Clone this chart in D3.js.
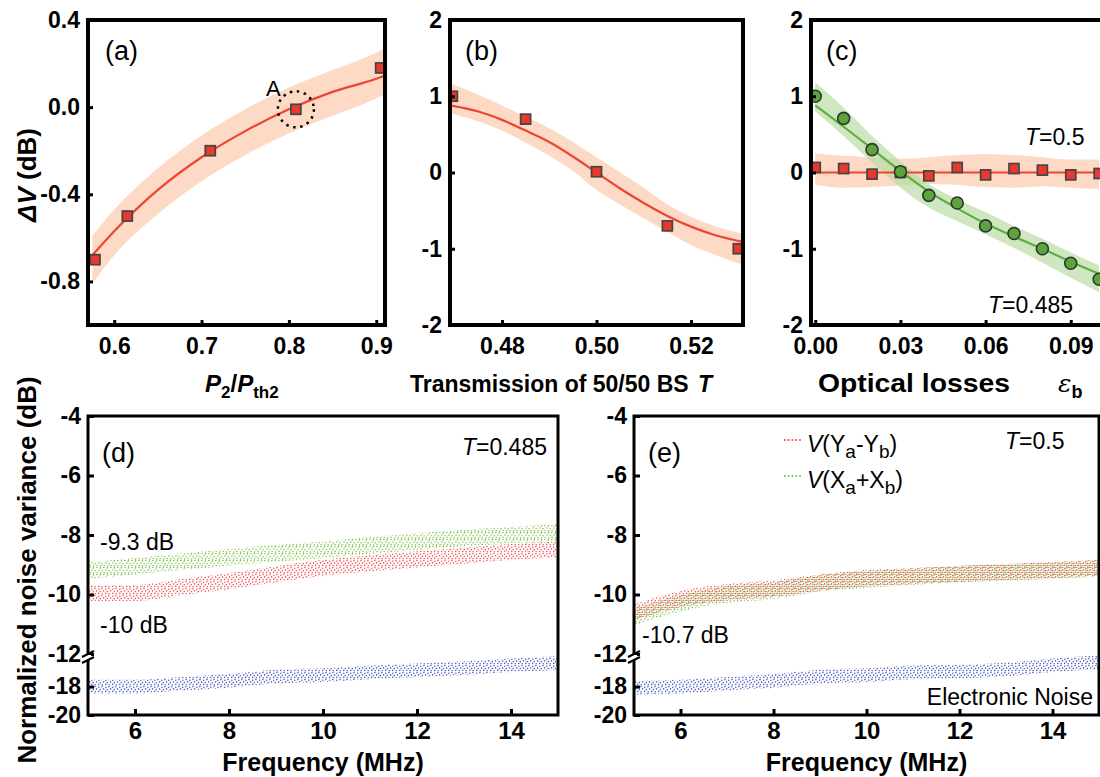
<!DOCTYPE html>
<html>
<head>
<meta charset="utf-8">
<title>Squeezing vs transmission and losses</title>
<style>
  body { margin: 0; background: #fff; }
  svg { display: block; font-family: "Liberation Sans", Arial, sans-serif; }
</style>
</head>
<body>
<div id="chart"></div>
<script src="https://cdnjs.cloudflare.com/ajax/libs/d3/7.8.5/d3.min.js"></script>
<script>
// ---- panel (a): Delta V vs P2/Pth2
const aPumpX  = [0.578, 0.615, 0.71, 0.808, 0.905];
const aDeltaV = [-0.70, -0.50, -0.20, -0.01, 0.18];
const aFitX   = [0.575, 0.6, 0.65, 0.7, 0.75, 0.8, 0.85, 0.9, 0.91];
const aFitY   = [-0.68, -0.57, -0.38, -0.23, -0.11, -0.01, 0.07, 0.13, 0.145];
const aBandHi = [-0.59, -0.47, -0.28, -0.13, -0.01, 0.09, 0.17, 0.25, 0.27];
const aBandLo = [-0.81, -0.68, -0.49, -0.34, -0.22, -0.12, -0.04, 0.04, 0.06];

// ---- panel (b): Delta V vs BS transmission
const bTransX = [0.4695, 0.485, 0.50, 0.515, 0.530];
const bDeltaV = [1.0, 0.7, 0.01, -0.7, -1.0];
const bFitX   = [0.469, 0.475, 0.48, 0.485, 0.49, 0.495, 0.50, 0.505, 0.51, 0.515, 0.52, 0.525, 0.531];
const bFitY   = [0.88, 0.80, 0.69, 0.55, 0.40, 0.21, 0.0, -0.21, -0.40, -0.57, -0.71, -0.82, -0.91];
const bBandHi = [1.17, 1.02, 0.88, 0.73, 0.58, 0.40, 0.20, 0.0, -0.20, -0.42, -0.58, -0.70, -0.80];
const bBandLo = [0.78, 0.67, 0.55, 0.39, 0.22, 0.02, -0.23, -0.42, -0.60, -0.78, -0.95, -1.08, -1.21];

// ---- panel (c): Delta V vs optical losses
const cLossX     = [0, 0.01, 0.02, 0.03, 0.04, 0.05, 0.06, 0.07, 0.08, 0.09, 0.10];
const cRedPts    = [0.066, 0.052, -0.022, 0.0, -0.044, 0.066, -0.031, 0.052, 0.031, -0.031, -0.013];
const cGreenPts  = [1.0, 0.71, 0.30, 0.01, -0.30, -0.40, -0.70, -0.80, -1.0, -1.19, -1.40];
const cGreenFit  = [0.88, 0.60, 0.31, 0.02, -0.25, -0.47, -0.67, -0.84, -1.0, -1.17, -1.33];
const cGreenHi   = [1.18, 0.85, 0.48, 0.15, -0.15, -0.35, -0.52, -0.70, -0.87, -1.05, -1.22];
const cGreenLo   = [0.80, 0.48, 0.13, -0.20, -0.46, -0.64, -0.81, -0.99, -1.18, -1.38, -1.57];
const cRedFitX   = [-0.0015, 0.101];
const cRedFitY   = [0, 0];
const cRedHi     = [0.25, 0.22, 0.20, 0.18, 0.20, 0.23, 0.24, 0.23, 0.20, 0.17, 0.17];
const cRedLo     = [-0.16, -0.20, -0.19, -0.17, -0.15, -0.16, -0.19, -0.20, -0.18, -0.20, -0.22];

// ---- panels (d), (e): noise spectra (trace centre and half spread, dB)
const freq    = [5, 6, 7, 8, 9, 10, 11, 12, 13, 14, 15];
const dGreen  = [-9.2, -9.05, -8.9, -8.75, -8.62, -8.5, -8.35, -8.22, -8.1, -8.0, -7.92];
const dRed    = [-9.95, -9.95, -9.75, -9.55, -9.32, -9.1, -8.95, -8.82, -8.7, -8.57, -8.48];
const dBlue   = [-18.0, -18.0, -17.8, -17.6, -17.3, -17.2, -17.0, -16.85, -16.7, -16.5, -16.35];
const eRed    = [-10.6, -10.15, -9.92, -9.8, -9.6, -9.45, -9.38, -9.3, -9.24, -9.18, -9.1];
const eGreen  = [-10.75, -10.3, -10.0, -9.88, -9.62, -9.5, -9.4, -9.32, -9.26, -9.2, -9.12];
const eBlue   = [-18.1, -18.0, -17.8, -17.6, -17.3, -17.2, -17.0, -16.95, -16.8, -16.5, -16.3];
const spread  = { red: 0.27, green: 0.28, blue: 0.48 };

const upperTicks = [-4, -6, -8, -10, -12];
const lowerTicks = [-18, -20];
const freqTicks  = [6, 8, 10, 12, 14];

const RED = '#ee4433', PEACH = '#fcdac5', GREEN = '#5cae3e';
const DOT = { red: '#f2565c', green: '#80c24c', blue: '#4e5ebf' };

// plain hyphen instead of unicode minus, as in the figure
const fmt = spec => d => d3.format(spec)(d).replace('\u2212', '-');

const svg = d3.select('#chart').append('svg')
    .attr('width', 1100).attr('height', 777);
const defs = svg.append('defs');

// scattered-dot textures for the spectra
function dotPattern(id, color, pts) {
  const p = defs.append('pattern').attr('id', id)
      .attr('patternUnits', 'userSpaceOnUse').attr('width', 7).attr('height', 7);
  pts.forEach(([cx, cy]) => p.append('circle').attr('cx', cx).attr('cy', cy).attr('r', 0.8).attr('fill', color));
}
const dotsA = [[0.8, 1.2], [3.9, 0.6], [2.3, 3.6], [5.6, 2.9], [0.7, 5.4], [4.2, 5.8]];
const dotsB = [[2.4, 0.9], [5.8, 0.4], [0.9, 3.0], [4.1, 3.7], [2.6, 6.1], [6.2, 5.5]];
dotPattern('dot-red', DOT.red, dotsA);
dotPattern('dot-green', DOT.green, dotsB);
dotPattern('dot-blue', DOT.blue, dotsA);

let clipN = 0;
function clipFor(x, y) {
  const id = 'clip' + (clipN++);
  const [x0, x1] = x.range(), [yb, yt] = y.range();
  defs.append('clipPath').attr('id', id).append('rect')
      .attr('x', x0).attr('y', yt).attr('width', x1 - x0).attr('height', yb - yt);
  return `url(#${id})`;
}

function styleAxis(g, size, sw) {
  g.select('.domain').remove();
  g.attr('font-family', null).attr('font-size', null);
  g.selectAll('.tick line').attr('stroke', '#000').attr('stroke-width', sw);
  g.selectAll('.tick text').attr('fill', '#000').attr('font-size', size).attr('font-weight', 'bold');
}

function frame(x, y, sw) {
  const [x0, x1] = x.range(), [yb, yt] = y.range();
  svg.append('rect').attr('x', x0).attr('y', yt).attr('width', x1 - x0).attr('height', yb - yt)
      .attr('fill', 'none').attr('stroke', '#000').attr('stroke-width', sw);
}

function label(txt, x, y, size) {
  return svg.append('text').attr('x', x).attr('y', y).attr('font-size', size).text(txt);
}

// ---------- top row ----------
function topPanel(x, y, xTicks, xFmt, yTicks, yFmt) {
  svg.append('g').attr('transform', `translate(0,${y.range()[0]})`)
      .call(d3.axisBottom(x).tickValues(xTicks).tickFormat(xFmt).tickSize(-5).tickPadding(13))
      .call(g => styleAxis(g, 23, 3));
  svg.append('g').attr('transform', `translate(${x.range()[0]},0)`)
      .call(d3.axisLeft(y).tickValues(yTicks).tickFormat(yFmt).tickSize(-5).tickPadding(8))
      .call(g => styleAxis(g, 23, 3));
}

function band(x, y, xs, lo, hi, fill, clip, opacity) {
  svg.append('path').attr('clip-path', clip)
      .datum(xs.map((v, i) => [v, lo[i], hi[i]]))
      .attr('fill', fill).attr('opacity', opacity || 1)
      .attr('d', d3.area().curve(d3.curveMonotoneX)
        .x(d => x(d[0])).y0(d => y(d[1])).y1(d => y(d[2])));
}
function fitLine(x, y, xs, ys, color, clip) {
  svg.append('path').attr('clip-path', clip)
      .datum(xs.map((v, i) => [v, ys[i]]))
      .attr('fill', 'none').attr('stroke', color).attr('stroke-width', 2.2)
      .attr('d', d3.line().curve(d3.curveMonotoneX).x(d => x(d[0])).y(d => y(d[1])));
}
function squares(x, y, xs, ys, clip) {
  svg.append('g').attr('clip-path', clip).selectAll('rect').data(xs.map((v, i) => [v, ys[i]]))
    .join('rect')
      .attr('x', d => x(d[0]) - 5).attr('y', d => y(d[1]) - 5)
      .attr('width', 10).attr('height', 10)
      .attr('fill', '#e8392f').attr('stroke', '#444').attr('stroke-width', 1.7);
}

// (a)
const xa = d3.scaleLinear().domain([0.57, 0.91]).range([88, 385]);
const ya = d3.scaleLinear().domain([-1.0, 0.4]).range([325, 20]);
const clipA = clipFor(xa, ya);
band(xa, ya, aFitX, aBandLo, aBandHi, PEACH, clipA);
fitLine(xa, ya, aFitX, aFitY, RED, clipA);
squares(xa, ya, aPumpX, aDeltaV, clipA);
svg.append('circle').attr('cx', xa(aPumpX[3])).attr('cy', ya(aDeltaV[3])).attr('r', 18)
    .attr('fill', 'none').attr('stroke', '#000').attr('stroke-width', 2.5).attr('stroke-dasharray', '2.5,4.6');
label('A', 266, 96, 22);
topPanel(xa, ya, [0.6, 0.7, 0.8, 0.9], fmt('.1f'), [0.4, 0.0, -0.4, -0.8], fmt('.1f'));
frame(xa, ya, 4);
label('(a)', 105, 60, 27);

// (b)
const xb = d3.scaleLinear().domain([0.469, 0.531]).range([450, 743]);
const yb = d3.scaleLinear().domain([-2, 2]).range([325, 20]);
const clipB = clipFor(xb, yb);
band(xb, yb, bFitX, bBandLo, bBandHi, PEACH, clipB);
fitLine(xb, yb, bFitX, bFitY, RED, clipB);
squares(xb, yb, bTransX, bDeltaV, clipB);
topPanel(xb, yb, [0.48, 0.50, 0.52], fmt('.2f'), [2, 1, 0, -1, -2], fmt('d'));
frame(xb, yb, 4);
label('(b)', 465, 60, 27);

// (c)
const xc = d3.scaleLinear().domain([-0.0015, 0.101]).range([811, 1102]);
const yc = d3.scaleLinear().domain([-2, 2]).range([325, 20]);
const clipC = clipFor(xc, yc);
band(xc, yc, cLossX, cRedLo, cRedHi, PEACH, clipC);
band(xc, yc, cLossX, cGreenLo, cGreenHi, '#b9dda5', clipC, 0.7);
fitLine(xc, yc, cRedFitX, cRedFitY, RED, clipC);
fitLine(xc, yc, cLossX, cGreenFit, GREEN, clipC);
squares(xc, yc, cLossX, cRedPts, clipC);
svg.append('g').attr('clip-path', clipC).selectAll('circle').data(cLossX.map((v, i) => [v, cGreenPts[i]]))
  .join('circle')
    .attr('cx', d => xc(d[0])).attr('cy', d => yc(d[1])).attr('r', 6)
    .attr('fill', '#5aa63c').attr('stroke', '#333').attr('stroke-width', 1.6);
topPanel(xc, yc, [0, 0.03, 0.06, 0.09], fmt('.2f'), [2, 1, 0, -1, -2], fmt('d'));
frame(xc, yc, 4);
label('(c)', 826, 60, 27);
const tc1 = label('', 1025, 145, 23);
tc1.append('tspan').attr('font-style', 'italic').text('T');
tc1.append('tspan').text('=0.5');
const tc2 = label('', 988, 313, 23);
tc2.append('tspan').attr('font-style', 'italic').text('T');
tc2.append('tspan').text('=0.485');

// top row axis titles
const ta = svg.append('text').attr('x', 205).attr('y', 392).attr('font-size', 24).attr('font-weight', 'bold');
ta.append('tspan').attr('font-style', 'italic').text('P');
ta.append('tspan').attr('font-size', 17).attr('dy', 6).text('2');
ta.append('tspan').attr('dy', -6).text('/');
ta.append('tspan').attr('font-style', 'italic').text('P');
ta.append('tspan').attr('font-size', 17).attr('dy', 6).text('th2');
const tb = svg.append('text').attr('x', 410).attr('y', 392).attr('font-size', 23).attr('font-weight', 'bold');
tb.append('tspan').text('Transmission of 50/50 BS');
tb.append('tspan').attr('x', 698).attr('font-style', 'italic').text('T');
svg.append('text').attr('x', 818).attr('y', 392).attr('font-size', 25).attr('font-weight', 'bold')
    .attr('textLength', 192).attr('lengthAdjust', 'spacingAndGlyphs')
    .text('Optical losses');
const eps = svg.append('text').attr('x', 1058).attr('y', 392).attr('font-size', 25);
eps.append('tspan').attr('font-family', '"DejaVu Serif", serif').attr('font-style', 'italic').text('\u03b5');
eps.append('tspan').attr('font-size', 18).attr('font-weight', 'bold').attr('dy', 6).text('b');

const yta = svg.append('text').attr('transform', 'translate(36,175) rotate(-90)')
    .attr('text-anchor', 'middle').attr('font-size', 26).attr('font-weight', 'bold');
yta.append('tspan').attr('font-style', 'italic').text('\u0394V');
yta.append('tspan').text(' (dB)');

// ---------- bottom row ----------
function spectrumPanel(x, traces, tag, tagX) {
  const yU = d3.scaleLinear().domain([-12, -4]).range([654, 416]);
  const yL = d3.scaleLinear().domain([-20, -15.71]).range([715, 654]);
  const yAll = d3.scaleLinear().domain([-20, -4]).range([715, 416]);
  const clip = clipFor(x, yAll);
  traces.forEach(t => {
    const ys = t.lower ? yL : yU;
    svg.append('path').attr('clip-path', clip)
        .datum(freq.map((f, i) => [f, t.values[i]]))
        .attr('fill', `url(#dot-${t.color})`)
        .attr('d', d3.area().curve(d3.curveMonotoneX)
          .x(d => x(d[0]))
          .y0(d => ys(d[1] - spread[t.color]))
          .y1(d => ys(d[1] + spread[t.color])));
  });
  svg.append('g').attr('transform', 'translate(0,715)')
      .call(d3.axisBottom(x).tickValues(freqTicks).tickFormat(fmt('d')).tickSize(-6).tickPadding(7))
      .call(g => styleAxis(g, 24, 3));
  const x0 = x.range()[0];
  svg.append('g').attr('transform', `translate(${x0},0)`)
      .call(d3.axisLeft(yU).tickValues(upperTicks).tickFormat(fmt('d')).tickSize(-6).tickPadding(7))
      .call(g => styleAxis(g, 23, 3));
  svg.append('g').attr('transform', `translate(${x0},0)`)
      .call(d3.axisLeft(yL).tickValues(lowerTicks).tickFormat(fmt('d')).tickSize(-6).tickPadding(7))
      .call(g => styleAxis(g, 23, 3));
  frame(x, yAll, 3);
  // axis break marks
  svg.append('rect').attr('x', x0 - 3).attr('y', 655).attr('width', 6).attr('height', 5).attr('fill', '#fff');
  [653, 659].forEach(yy => svg.append('line')
      .attr('x1', x0 - 6).attr('y1', yy + 4).attr('x2', x0 + 6).attr('y2', yy - 2)
      .attr('stroke', '#000').attr('stroke-width', 2));
  label(tag, tagX, 462, 27);
  svg.append('text').attr('x', (x0 + x.range()[1]) / 2).attr('y', 771)
      .attr('text-anchor', 'middle').attr('font-size', 25).attr('font-weight', 'bold')
      .text('Frequency (MHz)');
}

const xd = d3.scaleLinear().domain([5, 15]).range([88, 558]);
spectrumPanel(xd, [
  { values: dGreen, color: 'green' },
  { values: dRed, color: 'red' },
  { values: dBlue, color: 'blue', lower: true }
], '(d)', 102);
const td = svg.append('text').attr('x', 547).attr('y', 455).attr('text-anchor', 'end').attr('font-size', 23);
td.append('tspan').attr('font-style', 'italic').text('T');
td.append('tspan').text('=0.485');
label('-9.3 dB', 100, 550, 23);
label('-10 dB', 100, 633, 23);

const xe = d3.scaleLinear().domain([5, 15]).range([634, 1099]);
spectrumPanel(xe, [
  { values: eGreen, color: 'green' },
  { values: eRed, color: 'red' },
  { values: eBlue, color: 'blue', lower: true }
], '(e)', 648);
const te = svg.append('text').attr('x', 1005).attr('y', 449).attr('font-size', 23);
te.append('tspan').attr('font-style', 'italic').text('T');
te.append('tspan').text('=0.5');
label('-10.7 dB', 642, 643, 23);
label('Electronic Noise', 1093, 705, 23).attr('text-anchor', 'end');

// legend in (e)
const legend = [
  { color: DOT.red, y: 440, main: 'Y', sa: 'a', op: '-', sb: 'b' },
  { color: DOT.green, y: 476, main: 'X', sa: 'a', op: '+', sb: 'b' }
];
legend.forEach(l => {
  svg.append('line').attr('x1', 784).attr('x2', 802).attr('y1', l.y).attr('y2', l.y)
      .attr('stroke', l.color).attr('stroke-width', 2).attr('stroke-dasharray', '1.6,2.2');
  const t = svg.append('text').attr('x', 807).attr('y', l.y + 12).attr('font-size', 23);
  t.append('tspan').attr('font-style', 'italic').text('V');
  t.append('tspan').text('(' + l.main);
  t.append('tspan').attr('font-size', 19).attr('dy', 6).text(l.sa);
  t.append('tspan').attr('dy', -6).text(l.op + l.main);
  t.append('tspan').attr('font-size', 19).attr('dy', 6).text(l.sb);
  t.append('tspan').attr('dy', -6).text(')');
});

svg.append('text').attr('transform', 'translate(36,570) rotate(-90)')
    .attr('text-anchor', 'middle').attr('font-size', 26).attr('font-weight', 'bold')
    .text('Normalized noise variance (dB)');
</script>
</body>
</html>
